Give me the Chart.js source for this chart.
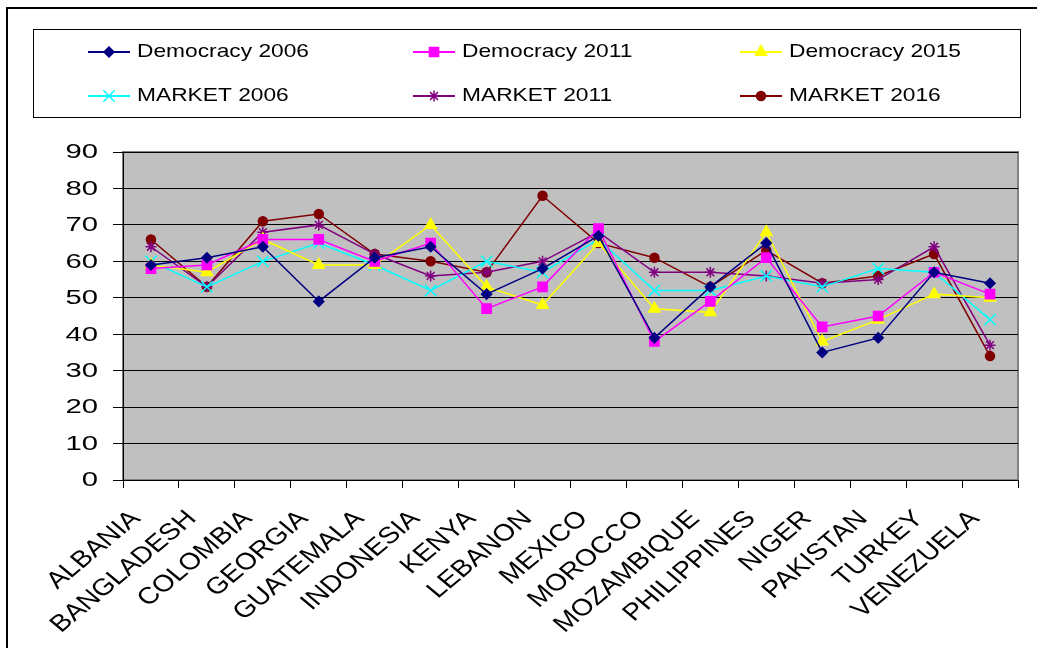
<!DOCTYPE html>
<html>
<head>
<meta charset="utf-8">
<script src="https://cdn.jsdelivr.net/npm/chart.js@4.4.0/dist/chart.umd.min.js"></script>
<style>
  html, body { margin: 0; padding: 0; background: #fff; }
</style>
</head>
<body>
<canvas id="lineChart" width="1037" height="648"></canvas>
<script>
var countries = ['ALBANIA', 'BANGLADESH', 'COLOMBIA', 'GEORGIA', 'GUATEMALA', 'INDONESIA', 'KENYA', 'LEBANON',
  'MEXICO', 'MOROCCO', 'MOZAMBIQUE', 'PHILIPPINES', 'NIGER', 'PAKISTAN', 'TURKEY', 'VENEZUELA'];

var democracy2006 = [59, 61, 64, 49, 61, 64, 51, 58, 67, 39, 53, 65, 35, 39, 57, 54];
var democracy2011 = [58, 59, 66, 66, 60, 65, 47, 53, 69, 38, 49, 61, 42, 45, 57, 51];
var democracy2015 = [59, 57, 66, 59, 59, 70, 53, 48, 65, 47, 46, 68, 38, 44, 51, 50];
var market2006 = [60, 53, 60, 65, 59, 52, 60, 57, 66, 52, 52, 56, 53, 58, 57, 44];
var market2011 = [64, 53, 68, 70, 62, 56, 57, 60, 68, 57, 57, 56, 54, 55, 64, 37];
var market2016 = [66, 53, 71, 73, 62, 60, 57, 78, 65, 61, 53, 63, 54, 56, 62, 34];

var yTicks = { min: 0, max: 90, step: 10 };

var fontFamily = '"Liberation Sans", Arial, sans-serif';

// plot background, outer frame
var background = {
  id: 'background',
  beforeDraw: function(chart) {
    var ctx = chart.ctx, a = chart.chartArea;
    ctx.save();
    ctx.fillStyle = '#fff';
    ctx.fillRect(0, 0, chart.width, chart.height);
    ctx.fillStyle = '#c0c0c0';
    ctx.fillRect(a.left, a.top, a.right - a.left, a.bottom - a.top);
    ctx.strokeStyle = '#808080';
    ctx.lineWidth = 2;
    ctx.strokeRect(a.left, a.top, a.right - a.left, a.bottom - a.top);
    // outer frame (only top and left show)
    ctx.strokeStyle = '#000';
    ctx.lineWidth = 2;
    ctx.beginPath();
    ctx.moveTo(7, chart.height);
    ctx.lineTo(7, 8);
    ctx.lineTo(chart.width, 8);
    ctx.stroke();
    ctx.restore();
  }
};

// the original's text is drawn wide, so tick labels are drawn here with a horizontal stretch
var wideLabels = {
  id: 'wideLabels',
  afterDraw: function(chart) {
    var ctx = chart.ctx, xs = chart.scales.x, ys = chart.scales.y;
    ctx.save();
    ctx.fillStyle = '#000';
    ctx.font = '19.5px ' + fontFamily;
    ctx.textAlign = 'right';
    ctx.textBaseline = 'middle';
    ys.ticks.forEach(function(t, i) {
      ctx.save();
      ctx.translate(ys.left + 98, ys.getPixelForTick(i) + 1);
      ctx.scale(1.5, 1);
      ctx.fillText(t.label, 0, 0);
      ctx.restore();
    });
    ctx.font = '23.5px ' + fontFamily;
    xs.ticks.forEach(function(t, i) {
      ctx.save();
      ctx.translate(xs.getPixelForTick(i) - 15, xs.top + 35);
      ctx.scale(1.2, 1);
      ctx.rotate(-Math.PI / 4);
      ctx.fillText(t.label, 0, 0);
      ctx.restore();
    });
    ctx.restore();
  }
};

// legend in a box, 3 columns x 2 rows
var boxLegend = {
  id: 'boxLegend',
  afterDraw: function(chart) {
    var ctx = chart.ctx;
    var cols = [88, 413, 740], rows = [52, 96];
    ctx.save();
    ctx.strokeStyle = '#000';
    ctx.lineWidth = 1;
    ctx.strokeRect(33.5, 29.5, 987, 88);
    ctx.font = '18.5px ' + fontFamily;
    ctx.textBaseline = 'middle';
    chart.data.datasets.forEach(function(ds, i) {
      var x = cols[i % 3], y = rows[Math.floor(i / 3)];
      ctx.strokeStyle = ds.borderColor;
      ctx.fillStyle = ds.borderColor;
      ctx.lineWidth = 2;
      ctx.beginPath();
      ctx.moveTo(x, y);
      ctx.lineTo(x + 42, y);
      ctx.stroke();
      ctx.lineWidth = 1.5;
      Chart.helpers.drawPoint(ctx, {
        pointStyle: ds.pointStyle, radius: ds.pointRadius, borderWidth: 1.5, rotation: 0
      }, x + 21, y);
      ctx.fillStyle = '#000';
      ctx.save();
      ctx.translate(x + 49, y);
      ctx.scale(1.23, 1);
      ctx.fillText(ds.label, 0, 0);
      ctx.restore();
    });
    ctx.restore();
  }
};

function series(label, data, color, style, radius) {
  return {
    label: label,
    data: data,
    borderColor: color,
    backgroundColor: color,
    pointBackgroundColor: color,
    pointBorderColor: color,
    pointStyle: style,
    pointRadius: radius,
    pointBorderWidth: 1.5,
    borderWidth: 1.5,
    tension: 0
  };
}

new Chart(document.getElementById('lineChart'), {
  type: 'line',
  data: {
    labels: countries,
    datasets: [
      series('Democracy 2006', democracy2006, '#000080', 'rectRot', 5),
      series('Democracy 2011', democracy2011, '#ff00ff', 'rect', 6.5),
      series('Democracy 2015', democracy2015, '#ffff00', 'triangle', 6.5),
      series('MARKET 2006', market2006, '#00ffff', 'crossRot', 8),
      series('MARKET 2011', market2011, '#800080', 'star', 5.5),
      series('MARKET 2016', market2016, '#800000', 'circle', 4.5)
    ]
  },
  options: {
    responsive: false,
    animation: false,
    events: [],
    layout: { padding: { top: 152, right: 19, left: 0, bottom: 0 } },
    plugins: {
      legend: { display: false },
      title: { display: false },
      tooltip: { enabled: false }
    },
    scales: {
      x: {
        offset: true,
        afterFit: function(scale) { scale.height = 168; },
        grid: { offset: true, drawOnChartArea: false, drawTicks: true, tickLength: 8, color: '#000' },
        border: { color: '#000', width: 1 },
        ticks: { display: false, autoSkip: false }
      },
      y: {
        min: yTicks.min,
        max: yTicks.max,
        afterFit: function(scale) { scale.width = 123; },
        grid: { color: '#000', lineWidth: 1, tickLength: 10 },
        border: { color: '#000', width: 1 },
        ticks: { display: false, stepSize: yTicks.step }
      }
    }
  },
  plugins: [background, wideLabels, boxLegend]
});
</script>
</body>
</html>
